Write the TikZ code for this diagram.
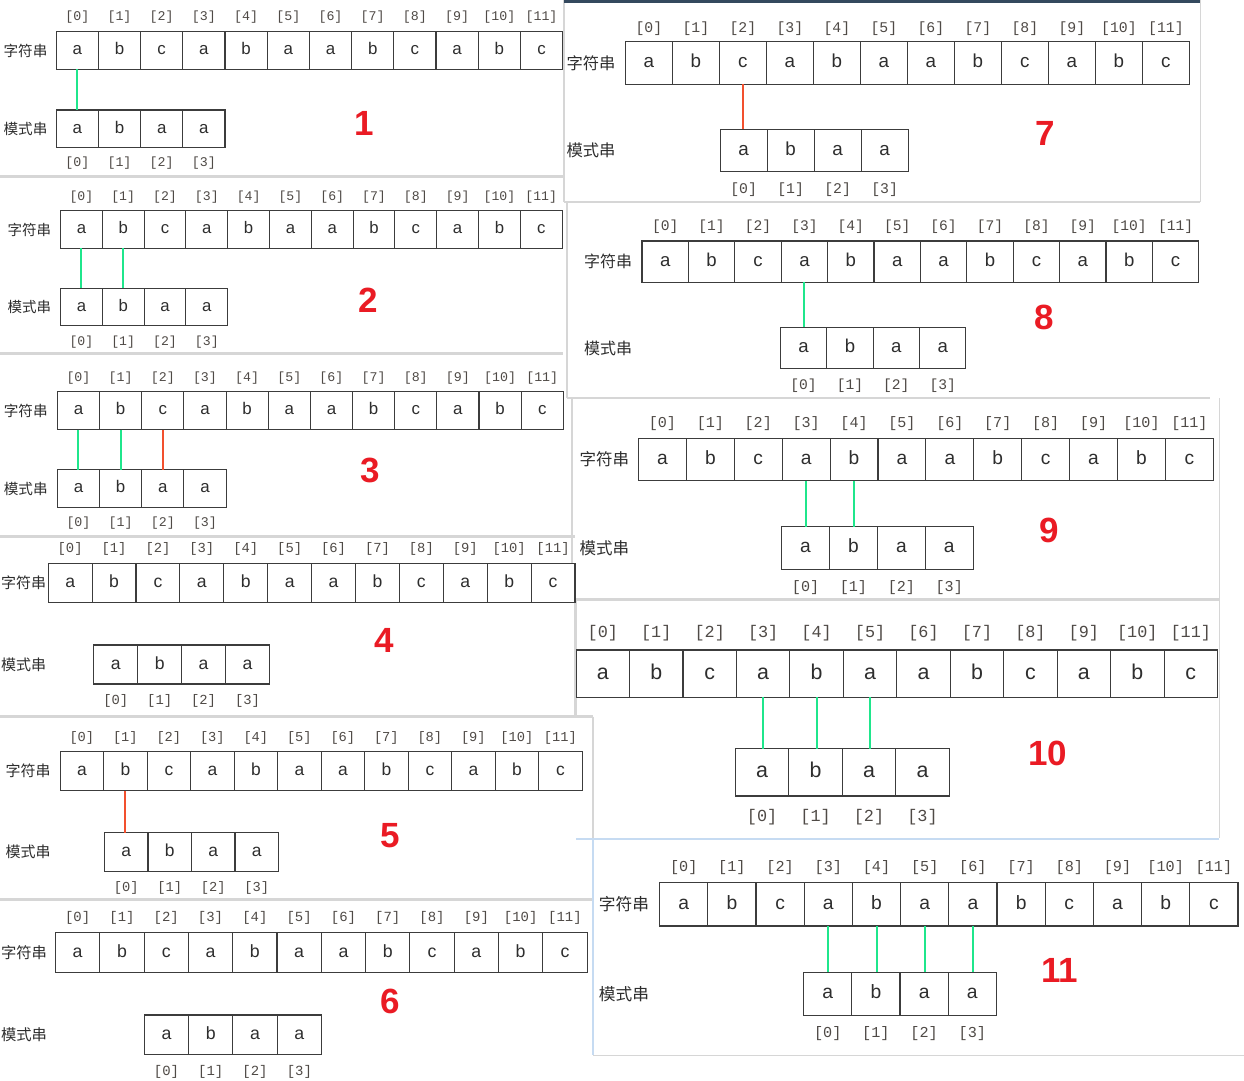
\documentclass[tikz,border=0pt]{standalone}
\usepackage{fontspec}
\setmainfont{Liberation Sans}
\newfontfamily\cjk{Noto Sans CJK SC}
\newfontfamily\monof{Liberation Mono}
\definecolor{cellc}{HTML}{3C3C3C}
\definecolor{txtc}{HTML}{2E2E2E}
\definecolor{idxc}{HTML}{4F4A46}
\definecolor{hitc}{HTML}{1FE68C}
\definecolor{missc}{HTML}{F2502E}
\definecolor{numc}{HTML}{EA1B24}
\definecolor{sepc}{HTML}{D6D6D6}
\definecolor{bluec}{HTML}{C6DBF2}
\definecolor{topc}{HTML}{34495E}
\tikzset{
  cellbox/.style={draw=cellc, line width=1.05pt, inner sep=0pt, outer sep=0pt, fill=white, text=txtc, text depth=0pt},
  idxlab/.style={inner sep=0pt, text=idxc},
  rowlab/.style={inner sep=0pt, text=txtc},
  steplab/.style={inner sep=0pt, text=numc, font=\bfseries\fontsize{35}{35}\selectfont},
  hit/.style={draw=hitc, line width=2pt},
  miss/.style={draw=missc, line width=2pt},
  sepline/.style={draw=sepc, line width=2.5pt},
  blueline/.style={draw=bluec, line width=2pt},
}
% #1 id, #2 row x0, #3 cell w, #4 row top, #5 cell h, #6 index y, #7 pattern x0, #8 pattern top, #9 pattern index y
\newcommand\drawpanel[9]{%
  \pgfmathsetmacro\Fs{0.4*#3}%
  \pgfmathsetmacro\Fi{0.315*#3}%
  \pgfmathsetmacro\Xh{0.519*\Fs}%
  \foreach \c [count=\i from 0] in {a,b,c,a,b,a,a,b,c,a,b,c}{%
    \node[cellbox, minimum width=#3, minimum height=#5, text height=\Xh, font=\fontsize{\Fs}{\Fs}\selectfont] (p#1s\i) at ({#2+(\i+0.5)*#3},{#4+#5/2}) {\c};
    \node[idxlab, font=\monof\fontsize{\Fi}{\Fi}\selectfont] (p#1si\i) at ({#2+(\i+0.5)*#3},#6) {[\i]};
  }%
  \foreach \c [count=\i from 0] in {a,b,a,a}{%
    \node[cellbox, minimum width=#3, minimum height=#5, text height=\Xh, font=\fontsize{\Fs}{\Fs}\selectfont] (p#1p\i) at ({#7+(\i+0.5)*#3},{#8+#5/2}) {\c};
    \node[idxlab, font=\monof\fontsize{\Fi}{\Fi}\selectfont] (p#1pi\i) at ({#7+(\i+0.5)*#3},#9) {[\i]};
  }%
}
\newcommand\rowlabels[5]{% id, x, size, y string, y pattern
  \node[rowlab, font=\cjk\fontsize{#3}{#3}\selectfont] (p#1ls) at (#2,#4) {字符串};
  \node[rowlab, font=\cjk\fontsize{#3}{#3}\selectfont] (p#1lp) at (#2,#5) {模式串};
}
\newcommand\linkup[4]{% style, id, string idx, pattern idx
  \draw[#1] (p#2s#3.south) -- (p#2s#3.south |- p#2p#4.north);
}
\begin{document}
\begin{tikzpicture}[x=1pt,y=-1pt]
\fill[white] (0,0) rectangle (1244,1080);
\useasboundingbox (0,0) rectangle (1244,1080);
% panel separators
\draw[sepline] (0,176.5) -- (563,176.5);
\draw[sepline] (0,353.5) -- (563,353.5);
\draw[sepline] (0,536.5) -- (575,536.5);
\draw[sepline] (0,716.5) -- (593,716.5);
\draw[sepline] (0,899.5) -- (593,899.5);
\draw[sepline] (564,0) -- (564,202);
\draw[sepline] (567,202) -- (567,398);
\draw[sepline] (572,398) -- (572,600);
\draw[sepline] (575.5,600) -- (575.5,716.5);
\draw[sepline] (593,716.5) -- (593,838);
\draw[sepline] (564,202) -- (1200,202);
\draw[sepline] (567,398) -- (1210,398);
\draw[sepline] (572,599.5) -- (1219,599.5);
\draw[draw=sepc, line width=1pt] (1200,0) -- (1200,202);
\draw[draw=sepc, line width=1pt] (1219,398) -- (1219,838);
\draw[blueline] (576,838.5) -- (1219,838.5);
\draw[blueline] (593,838) -- (593,1055);
\draw[draw=sepc, line width=1pt] (593,1055) -- (1244,1055);
\draw[draw=topc, line width=3pt] (564,1.5) -- (1200,1.5);
% panels
\drawpanel{1}{56.2}{42.2}{31.7}{37.6}{17.3}{56.2}{110}{163}
\rowlabels{1}{25.5}{14.6}{50.5}{128.8}
\linkup{hit}{1}{0}{0}
\node[steplab] (n1) at (364,123) {1};

\drawpanel{2}{60.5}{41.8}{210.7}{37.6}{197.3}{60.5}{288.3}{341.7}
\rowlabels{2}{29.3}{14.5}{229.5}{307.1}
\linkup{hit}{2}{0}{0}
\linkup{hit}{2}{1}{1}
\node[steplab] (n2) at (368,300) {2};

\drawpanel{3}{57.4}{42.16}{391.7}{37.8}{378.3}{57.4}{469.7}{523.3}
\rowlabels{3}{25.8}{14.6}{410.6}{488.6}
\linkup{hit}{3}{0}{0}
\linkup{hit}{3}{1}{1}
\linkup{miss}{3}{2}{2}
\node[steplab] (n3) at (370,470) {3};

\drawpanel{4}{48.2}{43.9}{563.3}{39}{549.3}{93.8}{645}{700.7}
\rowlabels{4}{23.6}{15}{582.8}{664.5}
\node[steplab] (n4) at (384,640) {4};

\drawpanel{5}{60.1}{43.5}{751.7}{39}{738.3}{104.5}{832.7}{888.3}
\rowlabels{5}{28}{15}{771.2}{852.2}
\linkup{miss}{5}{1}{0}
\node[steplab] (n5) at (390.4,836) {5};

\drawpanel{6}{55.5}{44.3}{932.7}{39.5}{918.3}{144.3}{1015}{1071.7}
\rowlabels{6}{24}{15.3}{952.4}{1034.7}
\node[steplab] (n6) at (390.4,1001.7) {6};

\drawpanel{7}{625.4}{47.0}{41.7}{42.6}{28.3}{720.1}{129.3}{189.3}
\rowlabels{7}{591}{16.3}{63}{150.6}
\linkup{miss}{7}{2}{0}
\node[steplab] (n7) at (1045,133.3) {7};

\drawpanel{8}{642}{46.4}{241}{41.3}{226.7}{780.3}{327.3}{386}
\rowlabels{8}{608}{16}{261.6}{348}
\linkup{hit}{8}{3}{0}
\node[steplab] (n8) at (1044.3,317.7) {8};

\drawpanel{9}{638.5}{47.9}{438.3}{42.4}{423.3}{781.6}{526.7}{587.7}
\rowlabels{9}{604.3}{16.5}{459.5}{547.9}
\linkup{hit}{9}{3}{0}
\linkup{hit}{9}{4}{1}
\node[steplab] (n9) at (1049.5,530) {9};

\drawpanel{10}{576.1}{53.45}{650}{47.3}{632.7}{735.4}{748.7}{816.7}
\linkup{hit}{10}{3}{0}
\linkup{hit}{10}{4}{1}
\linkup{hit}{10}{5}{2}
\node[steplab] (n10) at (1047.8,753.3) {10};

\drawpanel{11}{659.6}{48.2}{882.7}{43.3}{867.7}{803.6}{972.3}{1033.3}
\rowlabels{11}{624}{16.7}{904.3}{993.9}
\linkup{hit}{11}{3}{0}
\linkup{hit}{11}{4}{1}
\linkup{hit}{11}{5}{2}
\linkup{hit}{11}{6}{3}
\node[steplab] (n11) at (1059.9,970) {11};
\end{tikzpicture}
\end{document}
